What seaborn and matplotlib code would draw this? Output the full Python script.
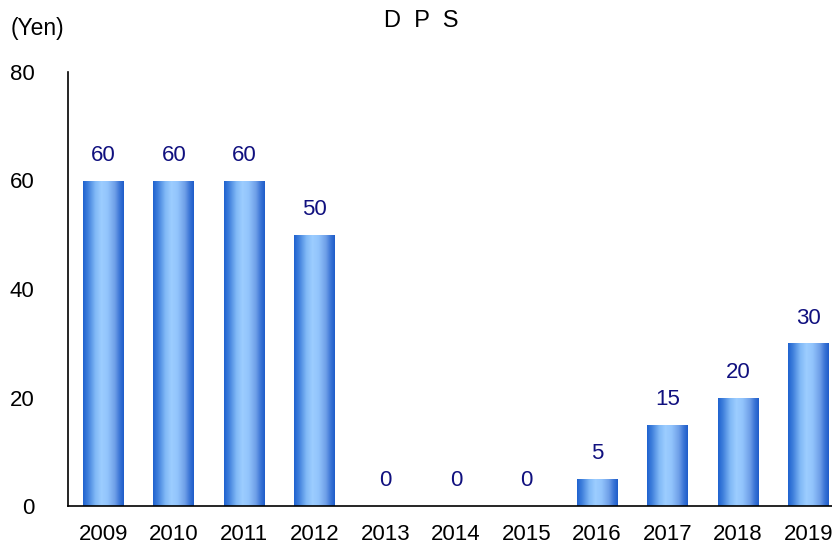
import numpy as np
import pandas as pd
import matplotlib
matplotlib.use("Agg")
import matplotlib.pyplot as plt
from matplotlib.colors import LinearSegmentedColormap
import seaborn as sns

years = ["2009", "2010", "2011", "2012", "2013", "2014", "2015",
         "2016", "2017", "2018", "2019"]
dps = [60, 60, 60, 50, 0, 0, 0, 5, 15, 20, 30]
y_ticks = [0, 20, 40, 60, 80]

sns.set_theme(style="white")
plt.rcParams["font.family"] = ["Liberation Sans", "DejaVu Sans"]

df = pd.DataFrame({"year": years, "dps": dps})

fig = plt.figure(figsize=(8.32, 5.46), dpi=100)
ax = fig.add_axes([68 / 832, 1 - 506 / 546, 1 - 68 / 832, (506 - 72) / 546])

sns.barplot(data=df, x="year", y="dps", ax=ax, width=0.58,
            color="#4a8ae0", saturation=1, edgecolor="none")

# Horizontal cylinder-like shading for each bar
shade = LinearSegmentedColormap.from_list(
    "bar_shade",
    [(0.0, "#1f62cf"), (0.12, "#3f7fdc"), (0.3, "#80b8f6"),
     (0.45, "#9ccdff"), (0.6, "#92c4fc"), (0.78, "#6f9fe8"),
     (0.9, "#3a74d6"), (1.0, "#1e5cc9")])
grad = np.linspace(0, 1, 256).reshape(1, -1)
for patch in ax.patches:
    x0, y0 = patch.get_x(), patch.get_y()
    w, h = patch.get_width(), patch.get_height()
    if h <= 0:
        continue
    im = ax.imshow(grad, cmap=shade, aspect="auto",
                   extent=[x0, x0 + w, y0, y0 + h], zorder=patch.get_zorder() + 0.1)
    im.set_clip_path(patch)

for i, v in enumerate(dps):
    ax.annotate(f"{v}", (i, v), xytext=(0, 25), textcoords="offset pixels",
                ha="center", va="center", fontsize=16, color="#10107f")

ax.set_xlim(-0.5, 10.33)
ax.set_ylim(0, 80)
ax.set_yticks(y_ticks)
ax.set_yticklabels([str(t) for t in y_ticks])
ax.tick_params(axis="y", length=0, pad=24, labelsize=16, labelcolor="black")
ax.tick_params(axis="x", length=0, pad=13, labelsize=16, labelcolor="black")
ax.set_xlabel("")
ax.set_ylabel("")

for side in ("top", "right"):
    ax.spines[side].set_visible(False)
for side in ("left", "bottom"):
    ax.spines[side].set_color("black")
    ax.spines[side].set_linewidth(1.2)

fig.text(421 / 832, 1 - 21 / 546, "D  P  S", ha="center", va="center",
         fontsize=17, color="black")
fig.text(11 / 832, 1 - 29 / 546, "(Yen)", ha="left", va="center",
         fontsize=16.5, color="black")

fig.savefig("out.png", dpi=100)
